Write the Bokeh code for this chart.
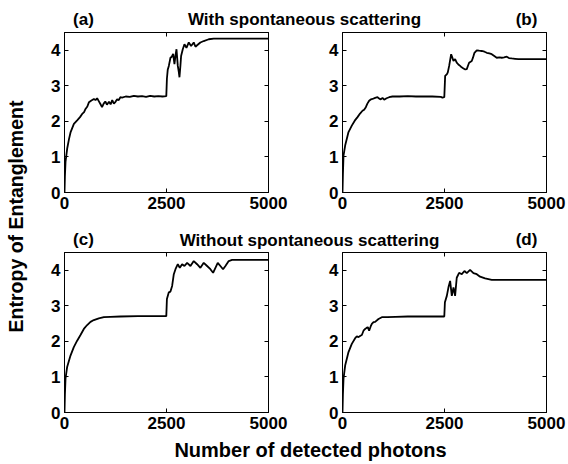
import math
from bokeh.plotting import figure
from bokeh.models import Range1d, FixedTicker, LinearAxis, Label, CustomJSTickFormatter
from bokeh.layouts import row, column
from bokeh.embed import file_html
from bokeh.resources import INLINE

# ---------------- data ----------------
photons_a = [0, 10, 25, 65, 110, 150, 230, 310, 380, 433, 480, 515, 560, 600, 650, 720, 760,
             800, 840, 880, 920, 960, 1000, 1040, 1090, 1130, 1170, 1210, 1250, 1290, 1330,
             1370, 1410, 1500, 1600, 1700, 1800, 1900, 2000, 2100, 2200, 2300, 2400, 2495,
             2510, 2530, 2557, 2597, 2630, 2663, 2695, 2720, 2745, 2777, 2800, 2818, 2840,
             2858, 2899, 2940, 2989, 3046, 3103, 3168, 3210, 3250, 3330, 3413, 3536, 3658,
             3800, 4000, 4500, 5000]
entropy_a = [0.0, 0.45, 0.86, 1.23, 1.50, 1.70, 1.93, 2.03, 2.12, 2.21, 2.26, 2.35, 2.42,
             2.54, 2.58, 2.63, 2.60, 2.65, 2.57, 2.49, 2.40, 2.50, 2.56, 2.47, 2.55, 2.48,
             2.60, 2.50, 2.55, 2.62, 2.60, 2.68, 2.67, 2.70, 2.69, 2.72, 2.70, 2.71, 2.69,
             2.72, 2.70, 2.71, 2.70, 2.71, 3.20, 3.45, 3.56, 3.79, 3.82, 3.90, 3.61, 3.85,
             4.03, 3.56, 3.40, 3.24, 3.55, 3.84, 4.03, 4.17, 4.07, 4.22, 4.12, 4.22, 4.10,
             4.14, 4.22, 4.26, 4.31, 4.33, 4.33, 4.33, 4.33, 4.33]

photons_b = [0, 10, 25, 65, 147, 228, 300, 368, 430, 490, 530, 572, 610, 653, 700, 735, 800,
             858, 900, 939, 980, 1021, 1080, 1143, 1225, 1400, 1600, 1800, 2000, 2200, 2409,
             2450, 2495, 2516, 2560, 2581, 2614, 2663, 2690, 2720, 2760, 2800, 2840, 2883,
             2920, 2965, 3010, 3046, 3080, 3103, 3168, 3200, 3234, 3291, 3350, 3413, 3480,
             3536, 3600, 3658, 3720, 3780, 3850, 3903, 3960, 4025, 4080, 4148, 4230, 4311,
             5000]
entropy_b = [0.0, 0.5, 1.04, 1.32, 1.70, 1.88, 2.02, 2.12, 2.22, 2.30, 2.33, 2.40, 2.50,
             2.58, 2.62, 2.63, 2.66, 2.68, 2.64, 2.62, 2.66, 2.61, 2.65, 2.68, 2.70, 2.70,
             2.71, 2.70, 2.70, 2.70, 2.69, 2.67, 2.68, 3.28, 3.33, 3.38, 3.56, 3.89, 3.80,
             3.70, 3.75, 3.65, 3.60, 3.56, 3.52, 3.49, 3.46, 3.47, 3.58, 3.65, 3.70, 3.80,
             3.93, 4.00, 3.99, 3.98, 3.96, 3.93, 3.91, 3.89, 3.84, 3.79, 3.80, 3.79, 3.80,
             3.82, 3.78, 3.77, 3.76, 3.75, 3.75]

photons_c = [0, 10, 25, 65, 147, 228, 310, 392, 474, 555, 637, 719, 841, 964, 1127, 1372,
             1800, 2495, 2510, 2557, 2597, 2638, 2679, 2720, 2777, 2826, 2883, 2940, 3005,
             3087, 3168, 3250, 3331, 3413, 3495, 3576, 3642, 3699, 3756, 3821, 3886, 3944,
             4025, 4107, 4229, 5000]
entropy_c = [0.0, 0.5, 0.95, 1.28, 1.60, 1.84, 2.02, 2.18, 2.35, 2.46, 2.55, 2.60, 2.65,
             2.68, 2.69, 2.70, 2.71, 2.71, 3.19, 3.38, 3.40, 3.56, 3.89, 4.03, 4.17, 4.07,
             4.17, 4.12, 4.21, 4.12, 4.26, 4.17, 4.07, 4.21, 4.12, 4.03, 3.93, 4.07, 4.21,
             4.12, 4.03, 4.12, 4.26, 4.29, 4.29, 4.29]

photons_d = [0, 10, 25, 65, 147, 228, 310, 351, 392, 440, 474, 515, 555, 590, 621, 653, 690,
             719, 760, 800, 882, 964, 1100, 1300, 1600, 2000, 2495, 2510, 2557, 2597, 2638,
             2679, 2720, 2760, 2800, 2858, 2924, 2989, 3046, 3127, 3209, 3291, 3372, 3495,
             3658, 5000]
entropy_d = [0.0, 0.5, 0.95, 1.32, 1.70, 1.93, 2.09, 2.14, 2.12, 2.16, 2.18, 2.30, 2.35,
             2.38, 2.40, 2.30, 2.42, 2.49, 2.54, 2.55, 2.63, 2.68, 2.68, 2.69, 2.70, 2.70,
             2.70, 3.10, 3.28, 3.52, 3.70, 3.28, 3.52, 3.28, 3.79, 3.93, 3.89, 3.98, 3.92,
             4.01, 3.92, 3.89, 3.82, 3.77, 3.73, 3.73]

x_ticks = [0, 2500, 5000]
y_ticks = [0, 1, 2, 3, 4]
panel_tags = ["(a)", "(b)", "(c)", "(d)"]
row_titles = ["With spontaneous scattering", "Without spontaneous scattering"]
y_title = "Entropy of Entanglement"
x_title = "Number of detected photons"

FONT = "Liberation Sans"


def style_axis(ax, ticks, show_labels):
    ax.ticker = FixedTicker(ticks=ticks)
    ax.major_tick_in = 4
    ax.major_tick_out = 0
    ax.minor_tick_line_color = None
    ax.axis_line_color = "black"
    ax.major_tick_line_color = "black"
    ax.major_label_text_font = FONT
    ax.major_label_text_font_style = "bold"
    ax.major_label_text_color = "black"
    if show_labels:
        ax.major_label_text_font_size = "17px"
        ax.major_label_standoff = 4
    else:
        ax.formatter = CustomJSTickFormatter(code="return '';")
        ax.major_label_text_font_size = "1px"
        ax.major_label_standoff = 0


def panel(xs, ys, w, h, bl, br, bt, bb):
    p = figure(width=w, height=h, x_range=Range1d(0, 5000), y_range=Range1d(0, 4.5),
               output_backend="svg", toolbar_location=None, title_location=None,
               min_border_left=bl, min_border_right=br,
               min_border_top=bt, min_border_bottom=bb)
    p.add_layout(LinearAxis(), "right")
    p.add_layout(LinearAxis(), "above")
    style_axis(p.below[0], x_ticks, True)
    style_axis(p.left[0], y_ticks, True)
    style_axis(p.right[0], y_ticks, False)
    style_axis(p.above[0], x_ticks, False)
    p.xgrid.visible = False
    p.ygrid.visible = False
    p.outline_line_color = "black"
    p.outline_line_width = 1
    p.background_fill_color = "white"
    p.border_fill_color = "white"
    p.line(xs, ys, line_color="black", line_width=1.8)
    return p


def strip(w, h):
    s = figure(width=w, height=h, x_range=Range1d(0, w), y_range=Range1d(0, h),
               output_backend="svg", toolbar_location=None, title_location=None,
               min_border=0, x_axis_type=None, y_axis_type=None)
    s.xgrid.visible = False
    s.ygrid.visible = False
    s.outline_line_color = None
    s.border_fill_color = "white"
    s.background_fill_color = "white"
    return s


def txt(s, x, y, text, size, align="center", angle=0.0):
    s.add_layout(Label(x=x, y=y, text=text, text_font=FONT, text_font_style="bold",
                       text_font_size=size, text_align=align,
                       text_baseline="middle", angle=angle, text_color="black"))


# widths: left strip 30 | panel col 1: 274 | panel col 2: 262  -> 566
# heights: 30 | 192 | 28 | 186 | 26 -> 462
fa = panel(photons_a, entropy_a, 274, 192, 34, 36, 2, 30)
fb = panel(photons_b, entropy_b, 262, 192, 38, 20, 2, 30)
fc = panel(photons_c, entropy_c, 274, 186, 34, 36, 2, 24)
fd = panel(photons_d, entropy_d, 262, 186, 38, 20, 2, 24)

t1 = strip(536, 30)
txt(t1, 53, 11, panel_tags[0], "17px")
txt(t1, 274, 11, row_titles[0], "17px")
txt(t1, 496, 11, panel_tags[1], "17px")

t2 = strip(536, 28)
txt(t2, 53, 11, panel_tags[2], "17px")
txt(t2, 279, 10, row_titles[1], "17px")
txt(t2, 496, 11, panel_tags[3], "17px")

bottom = strip(536, 26)
txt(bottom, 280, 13, x_title, "20px")

left = strip(30, 462)
txt(left, 15, 246, y_title, "19.5px", angle=math.pi / 2)

main = column(t1, row(fa, fb), t2, row(fc, fd), bottom)
layout = row(left, main)

open("out.html", "w").write(file_html(layout, INLINE))
